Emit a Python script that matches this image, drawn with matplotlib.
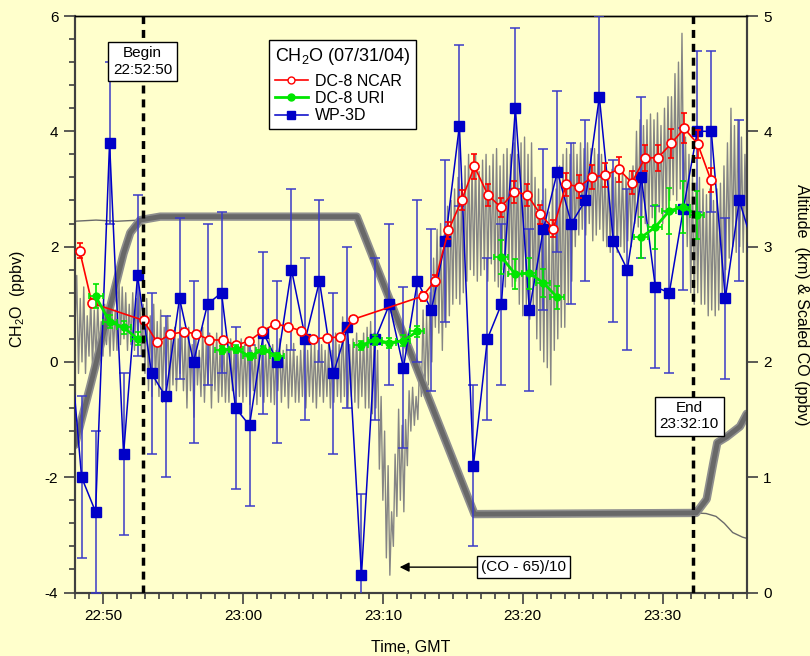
import numpy as np
import matplotlib
matplotlib.use('Agg')
import matplotlib.pyplot as plt
from matplotlib.lines import Line2D
from matplotlib.ticker import MultipleLocator

plt.rcParams['font.family'] = ['Liberation Sans', 'DejaVu Sans']
plt.rcParams['axes.unicode_minus'] = False

# times are minutes after 22:00 GMT
tick_pos = [50, 60, 70, 80, 90]
tick_labels = ['22:50', '23:00', '23:10', '23:20', '23:30']

begin_t = 52 + 50 / 60.0   # 22:52:50
end_t = 92 + 10 / 60.0     # 23:32:10

# WP-3D CH2O (ppbv), 1 min averages
wp3d_t = [47.47, 48.47, 49.47, 50.47, 51.47, 52.47, 53.47, 54.47, 55.47, 56.47,
          57.47, 58.47, 59.47, 60.47, 61.47, 62.47, 63.47, 64.47, 65.47, 66.47,
          67.47, 68.47, 69.47, 70.47, 71.47, 72.47, 73.47, 74.47, 75.47, 76.47,
          77.47, 78.47, 79.47, 80.47, 81.47, 82.47, 83.47, 84.47, 85.47, 86.47,
          87.47, 88.47, 89.47, 90.47, 91.47, 92.47, 93.47, 94.47, 95.47, 96.47]
wp3d_ch2o = [0.85, -2.0, -2.6, 3.8, -1.6, 1.5, -0.2, -0.6, 1.1, 0.0,
             1.0, 1.2, -0.8, -1.1, 0.5, 0.0, 1.6, 0.4, 1.4, -0.2,
             0.6, -3.7, 0.4, 1.0, -0.1, 1.4, 0.9, 2.1, 4.1, -1.8,
             0.4, 1.0, 4.4, 0.9, 2.3, 3.3, 2.4, 2.8, 4.6, 2.1,
             1.6, 3.2, 1.3, 1.2, 2.65, 4.0, 4.0, 1.1, 2.8, 2.0]
wp3d_err = [1.4] * len(wp3d_t)

# DC-8 NCAR CH2O
ncar_t = [48.33, 49.21, 52.90, 53.86, 54.80, 55.76, 56.66, 57.61, 58.57, 59.47,
          60.43, 61.38, 62.29, 63.24, 64.14, 65.04, 66.00, 66.95, 67.90, 72.84,
          73.74, 74.69, 75.64, 76.54, 77.50, 78.43, 79.36, 80.31, 81.26, 82.18,
          83.10, 84.03, 84.97, 85.90, 86.86, 87.79, 88.74, 89.66, 90.61, 91.54,
          92.50, 93.43]
ncar_ch2o = [1.93, 1.02, 0.72, 0.34, 0.48, 0.52, 0.49, 0.38, 0.38, 0.29,
             0.36, 0.53, 0.66, 0.61, 0.54, 0.40, 0.42, 0.43, 0.74, 1.14,
             1.41, 2.28, 2.81, 3.39, 2.90, 2.68, 2.95, 2.90, 2.56, 2.31,
             3.08, 3.04, 3.21, 3.24, 3.34, 3.11, 3.54, 3.54, 3.79, 4.05,
             3.78, 3.16]
ncar_err = [0.13, 0.07, 0.05, 0.03, 0.03, 0.04, 0.03, 0.03, 0.03, 0.03,
            0.03, 0.04, 0.05, 0.04, 0.04, 0.03, 0.03, 0.03, 0.05, 0.08,
            0.10, 0.15, 0.18, 0.22, 0.19, 0.17, 0.19, 0.19, 0.17, 0.15,
            0.20, 0.20, 0.21, 0.21, 0.22, 0.20, 0.23, 0.23, 0.25, 0.26,
            0.25, 0.21]

# DC-8 URI CH2O
uri_t = [49.47, 50.47, 51.47, 52.47, 58.47, 59.47, 60.47, 61.47, 62.47, 68.47,
         69.47, 70.47, 71.47, 72.47, 78.47, 79.47, 80.47, 81.47, 82.47, 88.47,
         89.47, 90.47, 91.47, 92.47]
uri_ch2o = [1.14, 0.70, 0.60, 0.40, 0.21, 0.23, 0.10, 0.21, 0.10, 0.29,
            0.38, 0.33, 0.37, 0.53, 1.82, 1.52, 1.54, 1.37, 1.12, 2.16,
            2.34, 2.62, 2.69, 2.55]
uri_err = [0.21, 0.12, 0.11, 0.11, 0.07, 0.07, 0.06, 0.07, 0.06, 0.08,
           0.09, 0.09, 0.09, 0.10, 0.30, 0.26, 0.27, 0.25, 0.20, 0.36,
           0.39, 0.40, 0.45, 0.42]
uri_terr = 0.5

# CO (ppbv), 7.5 s samples starting 22:48:00, one row per minute
co_ppbv = [
    88, 92.5, 84, 90.5, 85, 91.5, 84, 89,
    85.5, 90.5, 84.5, 89.5, 85, 90, 86, 88.5,
    85.5, 90, 86.5, 89, 85.5, 90, 86, 89.5,
    86, 93.5, 86.5, 91.5, 87, 91, 86, 90,
    86.5, 91, 86, 90.5, 87, 91, 85.5, 90,
    84, 90.5, 82.5, 89, 82, 90, 83, 88.5,
    82, 89.5, 81.5, 88, 83, 89, 82, 87.5,
    83, 88, 82.5, 87, 84, 88, 82.5, 87.5,
    81, 88, 82.5, 86.5, 80.2, 87.5, 83, 86,
    82, 88, 81.5, 86.5, 83, 87.5, 81, 87,
    82.5, 87.5, 81.5, 86.5, 82, 87, 81.5, 86,
    81.5, 87, 82.5, 86, 81.3, 86.5, 82, 87,
    81.5, 86.5, 82, 87, 81.3, 86, 82.5, 86.5,
    81.3, 87, 82, 86, 81.5, 86.5, 82, 87,
    81.5, 86.5, 81.3, 86, 82.5, 87, 81.5, 86,
    82, 86.5, 81, 86, 82, 86.6, 81.5, 85.5,
    81.5, 86, 82, 86.6, 81, 86, 82, 86.5,
    81.5, 86.6, 81, 86, 82, 86.5, 81.5, 86,
    82, 86.5, 81, 86, 81.5, 87.5, 82, 86.5,
    81.5, 88.9, 82, 87, 81, 86.5, 82, 87,
    81.5, 87.5, 81, 86.5, 82, 87.5, 81, 88,
    81, 88.5, 80.5, 87.5, 81, 86, 75.7, 82,
    73, 79, 68, 76, 66.5, 72, 69, 77,
    71.6, 80.9, 73, 79.5, 72, 80, 76, 82.5,
    79, 82.8, 79.5, 82, 80, 85, 82, 89.5,
    82, 89, 83, 91, 85, 94, 88, 96.5,
    87.5, 97, 86, 96, 88, 98.5, 89, 99,
    90, 100, 90.5, 101, 90, 100.5, 91, 102,
    92, 103, 93, 102, 92.5, 103, 92, 101.5,
    92.5, 102.5, 93, 103, 92, 102, 93.5, 103,
    92, 103.5, 91.5, 102, 93, 103, 91.5, 103.5,
    92.5, 103, 91.5, 104, 92, 103, 90, 104,
    89, 104.5, 90, 103, 88.7, 104, 89.5, 101,
    87, 100, 86, 99, 85, 100, 84.5, 98,
    83, 101, 86, 100, 87, 102, 88, 103,
    88, 103.5, 90, 103, 92, 104, 95, 103,
    96, 104, 96.5, 103.5, 96, 104, 97, 103.5,
    95.5, 103.5, 96, 103, 96.5, 103, 95.5, 102,
    95, 101.5, 94.5, 101.7, 95.5, 101, 94.5, 101.5,
    95, 101.7, 94.5, 101, 95.5, 101.5, 95, 102,
    97, 105, 96.7, 106, 97.5, 105.5, 97, 106,
    96.7, 106.5, 97.5, 106, 97, 106.6, 98, 105.5,
    97, 107, 98, 108, 99, 108, 99.5, 110,
    99, 111, 100, 113.5, 99, 104.5, 95, 103,
    91, 101, 90, 100.5, 91, 101, 90, 100,
    90, 99.5, 89, 100, 89.5, 99, 89, 100,
    89.5, 100.5, 91, 102, 93, 104, 94, 107,
    95, 105.5, 94.5, 106, 95, 104.5, 94.5, 103,
    96]

# DC-8 altitude (km)
alt_t = [48.0, 49.09, 50.52, 51.47, 51.95, 52.66, 54.09, 68.14, 76.55,
         92.39, 93.14, 93.61, 93.90, 94.57, 95.52, 96.0]
alt_km = [1.28, 1.79, 2.48, 2.94, 3.12, 3.23, 3.26, 3.26, 0.68,
          0.69, 0.81, 1.12, 1.30, 1.35, 1.44, 1.55]

# WP-3D altitude (km)
alt2_t = [48.0, 49.5, 51.0, 52.66, 54.09, 68.14, 76.55, 92.39, 93.10,
          93.81, 94.40, 95.00, 95.70, 96.0]
alt2_km = [3.22, 3.23, 3.22, 3.23, 3.26, 3.26, 0.68, 0.69, 0.685,
           0.66, 0.60, 0.52, 0.48, 0.47]

bg = '#FFFFCC'
fig = plt.figure(figsize=(8.1, 6.56), dpi=100, facecolor=bg)
fig.subplots_adjust(left=75 / 810, right=746.7 / 810, bottom=1 - 592.5 / 656, top=1 - 16 / 656)
ax = fig.add_subplot(111)
ax2 = ax.twinx()
ax.set_zorder(2)
ax2.set_zorder(1)
ax.patch.set_visible(False)
ax2.set_facecolor(bg)

# right axis: scaled CO and altitudes
co_t = 48 + 0.125 * np.arange(len(co_ppbv))
ax2.plot(co_t, (np.array(co_ppbv) - 65) / 10, color='#858585', lw=1.0, zorder=1)
ax2.plot(alt2_t, alt2_km, color='#6a6a6a', lw=1.0, zorder=2)
ax2.plot(alt_t, alt_km, color='#8e8e8e', lw=6, solid_capstyle='round', zorder=3)
ax2.plot(alt_t, alt_km, color='#686868', lw=3.5, solid_capstyle='round', zorder=4)
ax2.set_ylim(0, 5)
ax2.yaxis.set_major_locator(MultipleLocator(1))

# CH2O
ax.errorbar(wp3d_t, wp3d_ch2o, yerr=wp3d_err, fmt='s-', color='#0000C8', ms=6.5, lw=1.1,
            ecolor='#3a3ac8', elinewidth=1.1, capsize=3.9, capthick=1.1, zorder=3)
ax.errorbar(ncar_t, ncar_ch2o, yerr=ncar_err, fmt='o-', color='#FF0000', mfc='white',
            mec='#FF0000', mew=1.2, ms=6.5, lw=1.2, ecolor='#FF0000', elinewidth=1.2,
            capsize=2.3, capthick=1.2, zorder=4)

# URI line only joins points within each sampling leg
uri_green = '#00E600'
t_arr = np.array(uri_t)
v_arr = np.array(uri_ch2o)
breaks = np.where(np.diff(t_arr) > 2)[0] + 1
for seg_t, seg_v in zip(np.split(t_arr, breaks), np.split(v_arr, breaks)):
    ax.plot(seg_t, seg_v, color=uri_green, lw=2.0, zorder=5)
ax.errorbar(uri_t, uri_ch2o, xerr=uri_terr, yerr=uri_err, fmt='o', color=uri_green, ms=5,
            ecolor=uri_green, elinewidth=1.2, capsize=1.9, capthick=1.2, zorder=5)

for t in (begin_t, end_t):
    ax.axvline(t, color='black', lw=2.5, linestyle=(0, (2.3, 1.7)), zorder=6)

box = dict(boxstyle='square,pad=0.3', fc='white', ec='black', lw=1)
ax.text(begin_t, 5.21, 'Begin\n22:52:50', ha='center', va='center', fontsize=11,
        bbox=box, zorder=8)
ax.text(91.9, -0.945, 'End\n23:32:10', ha='center', va='center', fontsize=11,
        bbox=box, zorder=8)
ax.annotate('(CO - 65)/10', xy=(71.2, -3.56), xytext=(80.05, -3.56), ha='center',
            va='center', fontsize=11, bbox=dict(boxstyle='square,pad=0.25', fc='white', ec='black', lw=1),
            arrowprops=dict(arrowstyle='-|>', color='black', lw=1, mutation_scale=14,
                            shrinkA=0, shrinkB=0), zorder=8)

ax.set_xlim(48, 96)
ax.set_ylim(-4, 6)
ax.set_xticks(tick_pos)
ax.set_xticklabels(tick_labels)
ax.xaxis.set_minor_locator(MultipleLocator(1))
ax.yaxis.set_major_locator(MultipleLocator(2))
ax.yaxis.set_minor_locator(MultipleLocator(0.4))

for a in (ax, ax2):
    for s in a.spines.values():
        s.set_color('#404040')
        s.set_linewidth(1.5)
    a.spines['top'].set_color('black')
    a.spines['top'].set_linewidth(1.0)
ax.tick_params(which='major', direction='out', length=8, width=1.2, color='#404040',
               labelsize=11, pad=4)
ax.tick_params(which='minor', direction='out', length=4, width=1.2, color='#404040')
ax2.tick_params(which='major', direction='out', length=8, width=1.2, color='#404040',
                labelsize=11, pad=4)

handles = [
    Line2D([], [], color='#FF0000', marker='o', mfc='white', mec='#FF0000', mew=1.0, ms=5, lw=1.2),
    Line2D([], [], color=uri_green, marker='o', ms=5, lw=2.0),
    Line2D([], [], color='#0000C8', marker='s', ms=6, lw=1.1),
]
leg = ax.legend(handles, ['DC-8 NCAR', 'DC-8 URI', 'WP-3D'],
                title='CH$_\\mathregular{2}$O (07/31/04)', title_fontsize=13, fontsize=11.5,
                loc='upper left', bbox_to_anchor=(269 / 810, 1 - 40 / 656),
                bbox_transform=fig.transFigure, borderaxespad=0, fancybox=False,
                framealpha=1, edgecolor='black', facecolor='white', handlelength=2.1,
                handletextpad=0.45, labelspacing=0.15, borderpad=0.35, alignment='left')
leg.get_frame().set_linewidth(1)
leg._legend_box.sep = 5
leg.set_zorder(10)

fig.text(411 / 810, 1 - 647 / 656, 'Time, GMT', ha='center', va='center', fontsize=11.5)
fig.text(18 / 810, 1 - 299 / 656, 'CH$_\\mathregular{2}$O  (ppbv)', ha='center', va='center',
         rotation=90, fontsize=11.5)
fig.text(802 / 810, 1 - 305 / 656, 'Altitude  (km) & Scaled CO (ppbv)', ha='center',
         va='center', rotation=270, fontsize=11.5)

fig.savefig('out.png', dpi=100, facecolor=bg)
